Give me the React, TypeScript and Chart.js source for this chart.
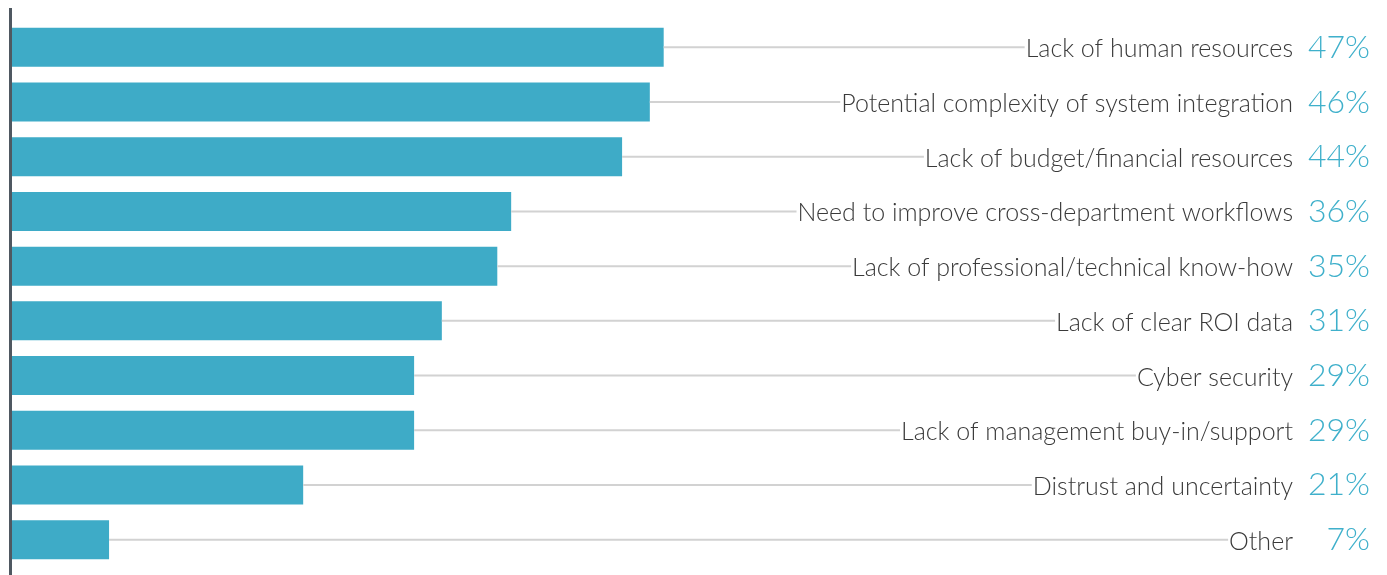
import React, { useEffect, useRef } from "react";
import { Chart, registerables } from "chart.js";

Chart.register(...registerables);

const categories = [
  "Lack of human resources",
  "Potential complexity of system integration",
  "Lack of budget/financial resources",
  "Need to improve cross-department workflows",
  "Lack of professional/technical know-how",
  "Lack of clear ROI data",
  "Cyber security",
  "Lack of management buy-in/support",
  "Distrust and uncertainty",
  "Other",
];
const values = [47, 46, 44, 36, 35, 31, 29, 29, 21, 7];
const valueLabels = ["47%", "46%", "44%", "36%", "35%", "31%", "29%", "29%", "21%", "7%"];

const BAR_COLOR = "#3eabc7";
const PCT_COLOR = "#3fb0cb";
const LABEL_COLOR = "#3a3a3a";
const CONNECTOR_COLOR = "#d2d2d2";
const AXIS_COLOR = "#4f5861";
const FONT = "Lato";

const labelPlugin = {
  id: "rowLabels",
  beforeDatasetsDraw(chart: any) {
    const ctx = chart.ctx;
    ctx.save();
    ctx.strokeStyle = AXIS_COLOR;
    ctx.lineWidth = 3;
    ctx.beginPath();
    ctx.moveTo(chart.chartArea.left - 1.5, 0);
    ctx.lineTo(chart.chartArea.left - 1.5, chart.height);
    ctx.stroke();
    ctx.restore();
  },
  afterDatasetsDraw(chart: any) {
    const ctx = chart.ctx;
    const meta = chart.getDatasetMeta(0);
    const labelRight = chart.width - 86;
    const pctRight = chart.width - 9;
    ctx.save();
    meta.data.forEach((bar: any, i: number) => {
      const y = bar.y;
      ctx.font = `300 25px ${FONT}`;
      const w = ctx.measureText(categories[i]).width;
      // connector
      ctx.strokeStyle = CONNECTOR_COLOR;
      ctx.lineWidth = 2;
      ctx.beginPath();
      ctx.moveTo(bar.x, y);
      ctx.lineTo(labelRight - w - 1, y);
      ctx.stroke();
      // label
      ctx.fillStyle = LABEL_COLOR;
      ctx.textAlign = "right";
      ctx.textBaseline = "alphabetic";
      ctx.fillText(categories[i], labelRight, y + 10);
      // percent
      ctx.font = `300 32px ${FONT}`;
      ctx.fillStyle = PCT_COLOR;
      ctx.fillText(valueLabels[i], pctRight, y + 10.5);
    });
    ctx.restore();
  },
};

export default function App() {
  const ref = useRef<HTMLCanvasElement>(null);
  useEffect(() => {
    if (!ref.current) return;
    const chart = new Chart(ref.current, {
      type: "bar",
      data: {
        labels: categories,
        datasets: [
          {
            data: values,
            backgroundColor: BAR_COLOR,
            borderWidth: 0,
            barPercentage: 0.713,
            categoryPercentage: 1,
          },
        ],
      },
      options: {
        indexAxis: "y",
        animation: false,
        responsive: false,
        maintainAspectRatio: false,
        layout: { padding: { left: 4, right: 4, top: 12, bottom: 8 } },
        plugins: { legend: { display: false }, tooltip: { enabled: false } },
        scales: {
          x: { display: false, min: 0, max: 98.3 },
          y: { display: false },
        },
      },
      plugins: [labelPlugin],
    });
    return () => chart.destroy();
  }, []);
  return (
    <div style={{ width: 1371, height: 567 }}>
      <canvas ref={ref} width={1371} height={567} style={{ display: "block" }} />
    </div>
  );
}
